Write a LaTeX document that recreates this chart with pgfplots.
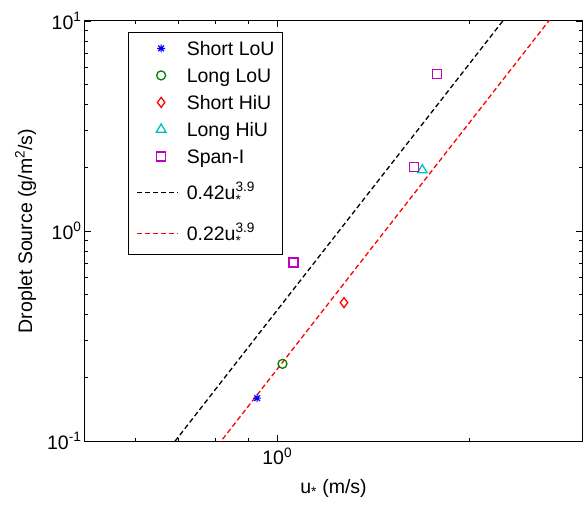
\documentclass[border=0pt]{standalone}
\usepackage{fontspec}
\setmainfont{Liberation Sans}
\usepackage{amsmath}
\usepackage{pgfplots}
\pgfplotsset{compat=1.18}
\definecolor{mgreen}{rgb}{0,0.5,0}
\definecolor{mcyan}{rgb}{0,0.75,0.75}
\definecolor{mmag}{rgb}{0.75,0,0.75}
\pgfdeclareplotmark{mstar}{%
  \pgfpathmoveto{\pgfqpoint{-\pgfplotmarksize}{0pt}}\pgfpathlineto{\pgfqpoint{\pgfplotmarksize}{0pt}}%
  \pgfpathmoveto{\pgfqpoint{0pt}{-\pgfplotmarksize}}\pgfpathlineto{\pgfqpoint{0pt}{\pgfplotmarksize}}%
  \pgfpathmoveto{\pgfqpoint{-0.707\pgfplotmarksize}{-0.707\pgfplotmarksize}}\pgfpathlineto{\pgfqpoint{0.707\pgfplotmarksize}{0.707\pgfplotmarksize}}%
  \pgfpathmoveto{\pgfqpoint{-0.707\pgfplotmarksize}{0.707\pgfplotmarksize}}\pgfpathlineto{\pgfqpoint{0.707\pgfplotmarksize}{-0.707\pgfplotmarksize}}%
  \pgfusepathqstroke}
\pgfplotsset{
  markleg/.style={legend image code/.code={\path (0pt,-1pt) (41pt,1pt); \draw[##1] plot coordinates {(24pt,0pt)};}},
  lineleg/.style={legend image code/.code={\draw[##1, draw=#1, line width=1.3pt, dash pattern=on 5pt off 3pt] (0pt,0pt) -- (41pt,0pt);}},
}
\begin{document}
\begin{tikzpicture}[font=\fontsize{19.5}{23}\selectfont]
\begin{loglogaxis}[
  scale only axis, width=497pt, height=420pt,
  xmin=0.5, xmax=3, ymin=0.1, ymax=10,
  xtick={1}, xticklabels={10$^{\text{0}}$},
  ytick={0.1,1,10}, yticklabels={10$^{\text{-1}}$,10$^{\text{0}}$,10$^{\text{1}}$},
  minor xtick={0.6,0.7,0.8,0.9,2},
  minor ytick={0.2,0.3,0.4,0.5,0.6,0.7,0.8,0.9,2,3,4,5,6,7,8,9},
  tick align=inside, tick pos=both,
  major tick length=6pt, minor tick length=3.5pt,
  every tick/.style={black, line width=0.8pt},
  axis line style={line width=1pt},
  xticklabel style={yshift=-3pt},
  xlabel={u$_{\text{*}}$ (m/s)},
  ylabel={Droplet Source (g/m$^{\text{2}}$/s)},
  xlabel style={yshift=-8pt},
  ylabel style={yshift=4pt},
  legend cell align=left,
  legend style={at={(0.0865,0.974)}, anchor=north west, draw=black, line width=1pt,
    font=\fontsize{19.5}{23}\selectfont, inner xsep=8pt, inner ysep=6.5pt,
    row sep=8pt, column sep=8pt,
    nodes={inner sep=0pt, text height=16.5pt, text depth=2.5pt}},
]
\coordinate (SW) at (rel axis cs:0,0);
\coordinate (NE) at (rel axis cs:1,1);
\addplot[only marks, mark=mstar, blue, mark size=4pt, line width=1.2pt, markleg]
  coordinates {(0.930,0.160)};
\addlegendentry{Short LoU}
\addplot[only marks, mark=o, mgreen, mark size=4.5pt, line width=1.3pt, markleg]
  coordinates {(1.019,0.233)};
\addlegendentry{Long LoU}
\addplot[only marks, mark=diamond, red, mark size=5pt, line width=1.3pt, markleg]
  coordinates {(1.272,0.456)};
\addlegendentry{Short HiU}
\addplot[only marks, mark=triangle, mcyan, mark size=5.5pt, line width=1.3pt, markleg]
  coordinates {(1.687,1.95)};
\addlegendentry{Long HiU}
\addplot[only marks, mark=square, mmag, mark size=4.5pt, line width=1.3pt, markleg]
  coordinates {(1.060,0.709) (1.638,2.01) (1.781,5.59)};
\addlegendentry{Span-I}
\addplot[black, line width=1.3pt, dash pattern=on 5pt off 3pt, lineleg=black]
  coordinates {(0.6,0.05730) (2.5,14.96)};
\addlegendentry[text height=25.5pt, text depth=11.5pt]{0.42u$^{\text{3.9}}_{\text{*}}$}
\addplot[red, line width=1.3pt, dash pattern=on 5pt off 3pt, lineleg=red]
  coordinates {(0.7,0.05474) (3,15.97)};
\addlegendentry[text height=21.5pt, text depth=7.5pt]{0.22u$^{\text{3.9}}_{\text{*}}$}
\end{loglogaxis}
\pgfresetboundingbox
\path ([xshift=-85pt,yshift=-67pt]SW) rectangle ([xshift=2pt,yshift=21pt]NE);
\end{tikzpicture}
\end{document}
